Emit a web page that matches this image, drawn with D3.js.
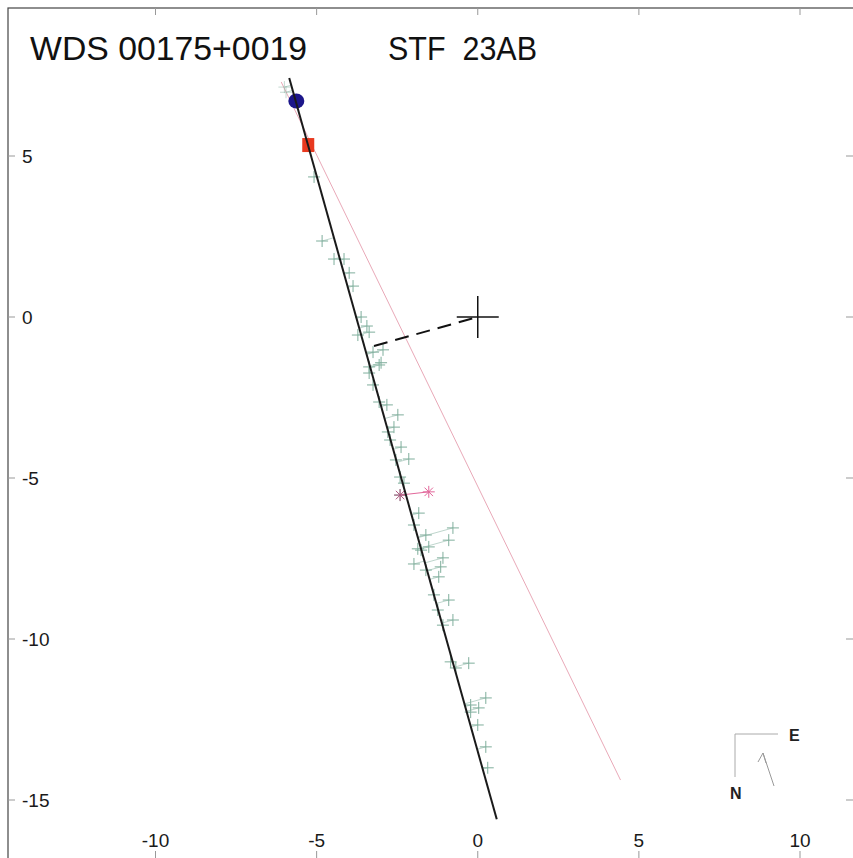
<!DOCTYPE html>
<html>
<head>
<meta charset="utf-8">
<script src="https://cdn.jsdelivr.net/npm/d3@7"></script>
<style>
  html, body { margin: 0; padding: 0; background: #fff; }
  svg { display: block; }
  text { font-family: "Liberation Sans", Arial, Helvetica, sans-serif; }
</style>
</head>
<body>
<svg id="chart" width="853" height="858"></svg>
<script>
// ---- data -------------------------------------------------------------
const titleWds = "WDS 00175+0019";
const titleDisc = "STF  23AB";

const xTicks = [-10, -5, 0, 5, 10];
const yTicks = [5, 0, -5, -10, -15];

// micrometric / interferometric measures (relative position, arcsec)
const obsX = [-6.00, -5.95, -5.08, -4.83, -4.46, -4.15, -3.99, -3.87, -3.62, -3.44,
              -3.72, -3.37, -2.94, -3.25, -3.06, -3.00, -3.37, -3.37, -3.25, -3.06,
              -2.82, -2.48, -2.60, -2.79, -2.72, -2.38, -2.54, -2.14, -2.41, -2.29,
              -2.41, -1.83, -1.98, -1.61, -0.77, -0.90, -1.86, -1.52, -1.76, -1.98,
              -1.61, -1.08, -1.15, -1.21, -1.36, -0.90, -1.24, -0.77, -1.08, -0.84,
              -0.28, -0.68, 0.25, -0.22, 0.03, -0.22, 0.00, 0.25, 0.31];
const obsY = [7.14, 6.98, 4.35, 2.36, 1.80, 1.80, 1.37, 0.96, 0.00, -0.28,
              -0.56, -0.47, -1.02, -1.09, -1.49, -1.42, -1.55, -1.74, -2.11, -2.64,
              -2.73, -3.04, -3.42, -3.57, -3.82, -4.04, -4.44, -4.41, -4.97, -5.16,
              -5.53, -6.09, -6.46, -6.77, -6.55, -6.93, -7.20, -7.14, -7.24, -7.67,
              -7.86, -7.48, -7.76, -8.07, -8.63, -8.79, -9.10, -9.41, -9.57, -10.71,
              -10.75, -10.90, -11.83, -12.05, -12.14, -12.27, -12.67, -13.35, -14.00];

// speckle measures (asterisks)
const speckleX = [-2.41, -1.52];
const speckleY = [-5.53, -5.43];

// earliest measure (filled ellipse) and last measure (square)
const firstX = [-5.63], firstY = [6.71];
const lastX = [-5.26], lastY = [5.34];

// apparent orbit (nearly edge-on, drawn as a line) and comparison line
const orbitX = [-5.85, 0.59], orbitY = [7.42, -15.6];
const refX = [-6.10, 4.43], refY = [7.30, -14.38];

// line of nodes / periastron direction, drawn toward the primary
const nodeX = [-3.22, 0], nodeY = [-0.90, 0];

// ---- scales ------------------------------------------------------------
const svg = d3.select("#chart");
const x = d3.scaleLinear().domain([-10, 10]).range([155.5, 800]);
const y = d3.scaleLinear().domain([-15, 5]).range([800, 156]);

const frame = { left: 8, top: 8, right: 853, bottom: 858 };

// frame
svg.append("rect")
  .attr("x", frame.left).attr("y", frame.top)
  .attr("width", 900).attr("height", 900)
  .attr("fill", "none").attr("stroke", "#444").attr("stroke-width", 1.2);

// ticks on all four sides
const tickLen = 7;
const tickG = svg.append("g").attr("stroke", "#999").attr("stroke-width", 1);
xTicks.forEach(v => {
  tickG.append("line").attr("x1", x(v)).attr("x2", x(v)).attr("y1", frame.top).attr("y2", frame.top + tickLen);
  tickG.append("line").attr("x1", x(v)).attr("x2", x(v)).attr("y1", frame.bottom - tickLen).attr("y2", frame.bottom);
});
yTicks.forEach(v => {
  tickG.append("line").attr("y1", y(v)).attr("y2", y(v)).attr("x1", frame.left).attr("x2", frame.left + tickLen);
  tickG.append("line").attr("y1", y(v)).attr("y2", y(v)).attr("x1", frame.right - tickLen).attr("x2", frame.right);
});

// tick labels
svg.append("g").selectAll("text").data(xTicks).join("text")
  .attr("x", d => x(d)).attr("y", 847)
  .attr("text-anchor", "middle").attr("font-size", 19).attr("fill", "#1a1a1a")
  .text(d => d);
svg.append("g").selectAll("text").data(yTicks).join("text")
  .attr("x", 22).attr("y", d => y(d) + 7)
  .attr("text-anchor", "start").attr("font-size", 19).attr("fill", "#1a1a1a")
  .text(d => d);

// title
svg.append("text").attr("x", 30).attr("y", 60).attr("font-size", 33).attr("fill", "#111")
  .attr("textLength", 277).attr("lengthAdjust", "spacingAndGlyphs")
  .text(titleWds);
svg.append("text").attr("x", 388).attr("y", 60).attr("font-size", 33).attr("fill", "#111")
  .style("white-space", "pre").attr("textLength", 149).attr("lengthAdjust", "spacingAndGlyphs")
  .text(titleDisc);

// comparison line (thin pink)
svg.append("line")
  .attr("x1", x(refX[0])).attr("y1", y(refY[0]))
  .attr("x2", x(refX[1])).attr("y2", y(refY[1]))
  .attr("stroke", "#e9a9b8").attr("stroke-width", 1);

// residual lines: each measure to its closest point on the orbit line
const ox0 = x(orbitX[0]), oy0 = y(orbitY[0]), ox1 = x(orbitX[1]), oy1 = y(orbitY[1]);
function onOrbit(px, py) {
  const dx = ox1 - ox0, dy = oy1 - oy0;
  const t = ((px - ox0) * dx + (py - oy0) * dy) / (dx * dx + dy * dy);
  return [ox0 + t * dx, oy0 + t * dy];
}
const obs = obsX.map((v, i) => ({ x: v, y: obsY[i] }));
const green = "#7fae9c";
svg.append("g").selectAll("line").data(obs).join("line")
  .attr("x1", d => x(d.x)).attr("y1", d => y(d.y))
  .attr("x2", d => onOrbit(x(d.x), y(d.y))[0])
  .attr("y2", d => onOrbit(x(d.x), y(d.y))[1])
  .attr("stroke", green).attr("stroke-width", 1).attr("opacity", 0.5);

// measures as plus signs
const arm = 6;
const plusG = svg.append("g").attr("stroke", green).attr("stroke-width", 1);
obs.forEach((d, i) => {
  const cx = x(d.x), cy = y(d.y);
  const g = plusG.append("g").attr("opacity", i < 2 ? 0.45 : 1);
  g.append("line").attr("x1", cx - arm).attr("x2", cx + arm).attr("y1", cy).attr("y2", cy);
  g.append("line").attr("x1", cx).attr("x2", cx).attr("y1", cy - arm).attr("y2", cy + arm);
});

// speckle measures: asterisks joined by their residual
const pink = "#e2679a";
svg.append("line")
  .attr("x1", x(speckleX[0])).attr("y1", y(speckleY[0]))
  .attr("x2", x(speckleX[1])).attr("y2", y(speckleY[1]))
  .attr("stroke", pink).attr("stroke-width", 1);
const starG = svg.append("g").attr("stroke-width", 1);
speckleX.forEach((v, i) => {
  const cx = x(v), cy = y(speckleY[i]), r = 6;
  const col = i === 0 ? "#b0557f" : pink;
  [0, 45, 90, 135].forEach(a => {
    const rad = a * Math.PI / 180;
    starG.append("line")
      .attr("x1", cx - r * Math.cos(rad)).attr("y1", cy - r * Math.sin(rad))
      .attr("x2", cx + r * Math.cos(rad)).attr("y2", cy + r * Math.sin(rad))
      .attr("stroke", col);
  });
});

// first measure (filled ellipse) and last measure (square)
svg.append("g").selectAll("ellipse").data(firstX).join("ellipse")
  .attr("cx", d => x(d)).attr("cy", (d, i) => y(firstY[i]))
  .attr("rx", 8).attr("ry", 7.5).attr("fill", "#1c168a");
svg.append("g").selectAll("rect").data(lastX).join("rect")
  .attr("x", d => x(d) - 6).attr("y", (d, i) => y(lastY[i]) - 7)
  .attr("width", 12).attr("height", 14).attr("fill", "#e8391f");

// apparent orbit
svg.append("line")
  .attr("x1", ox0).attr("y1", oy0).attr("x2", ox1).attr("y2", oy1)
  .attr("stroke", "#1a1a1a").attr("stroke-width", 2);

// dashed line to the primary
svg.append("line")
  .attr("x1", x(nodeX[0])).attr("y1", y(nodeY[0]))
  .attr("x2", x(nodeX[1])).attr("y2", y(nodeY[1]))
  .attr("stroke", "#111").attr("stroke-width", 2).attr("stroke-dasharray", "14,8");

// primary star
const pr = 21;
svg.append("line").attr("x1", x(0) - pr).attr("x2", x(0) + pr).attr("y1", y(0)).attr("y2", y(0))
  .attr("stroke", "#111").attr("stroke-width", 1.5);
svg.append("line").attr("x1", x(0)).attr("x2", x(0)).attr("y1", y(0) - pr).attr("y2", y(0) + pr)
  .attr("stroke", "#111").attr("stroke-width", 1.5);

// orientation key and direction of motion
const key = svg.append("g");
key.append("path").attr("d", "M778,734 H735 V777")
  .attr("fill", "none").attr("stroke", "#aaa").attr("stroke-width", 1);
key.append("text").attr("x", 789).attr("y", 741).attr("font-size", 16).attr("font-weight", "bold")
  .attr("fill", "#222").text("E");
key.append("text").attr("x", 730).attr("y", 799).attr("font-size", 16).attr("font-weight", "bold")
  .attr("fill", "#222").text("N");
key.append("line").attr("x1", 774).attr("y1", 786).attr("x2", 763).attr("y2", 753)
  .attr("stroke", "#999").attr("stroke-width", 1);
key.append("path").attr("d", "M758,762 L763,753 L766,763")
  .attr("fill", "none").attr("stroke", "#999").attr("stroke-width", 1);
</script>
</body>
</html>
